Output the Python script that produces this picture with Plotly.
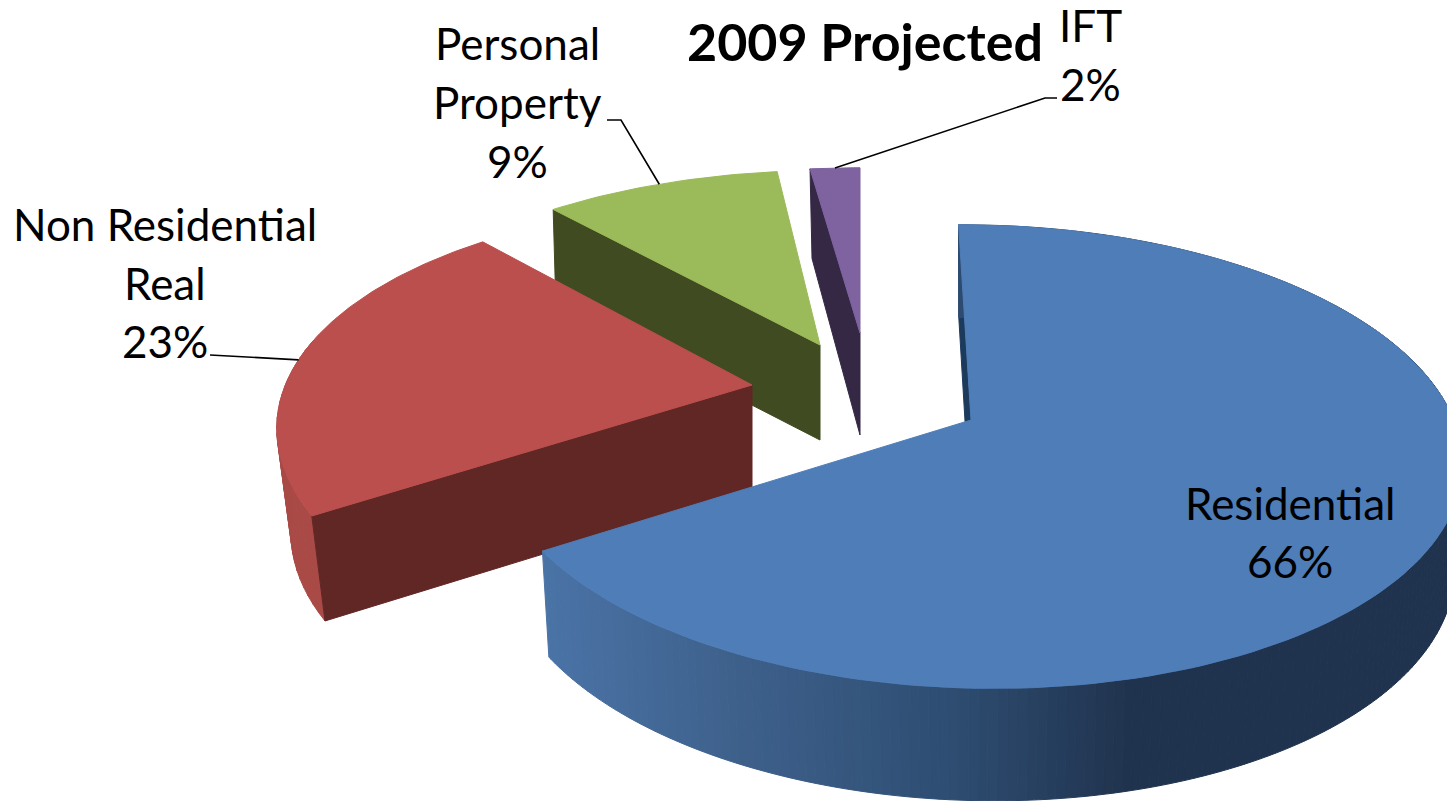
import math
import plotly.graph_objects as go

# ---- data ----
categories = ["Residential", "Non Residential Real", "Personal Property", "IFT"]
values = [66, 23, 9, 2]
label_lines = [["Residential"], ["Non Residential", "Real"], ["Personal", "Property"], ["IFT"]]
title_text = "2009 Projected"

# ---- styling of the projected pie (per slice) ----
W, H = 1447, 801
FONT = "Lato, Carlito, Calibri, sans-serif"
geom = [
    dict(cx=971, cy=420, R=478, Rk=226, p=0.158, q=-0.01, sk=-0.03, D=101, dk=0.6, bs=0.985),
    dict(cx=752, cy=385, R=490, Rk=224.6, p=0.23, q=-0.05, sk=-0.035, D=105, dk=0.0, bs=0.97),
    dict(cx=820, cy=345, R=442, Rk=180, p=0.03, q=0.0, sk=0.0257, D=95, dk=0.0, bs=0.99),
    dict(cx=860, cy=333, R=470, Rk=195, p=0.18, q=0.0, sk=0.0, D=102, dk=0.8, bs=0.96),
]
top_col = ["#4E7DB8", "#BB4F4D", "#9BBA59", "#7F62A0"]
face_col = ["#1C3A5C", "#612725", "#414B21", "#352845"]
rim_col = [None, "#A94A47", "#414B21", "#352845"]
rim_stops = [(543, (74, 115, 166)), (730, (62, 97, 140)), (950, (46, 77, 114)), (1130, (32, 51, 78)), (1500, (32, 51, 78))]
label_pos = [(1290, [503, 561]), (165, [224, 283, 341]), (517, [43, 102, 161]), (1090, [25, 84])]
leader_elbow = [None, [(210, 355)], [(607, 120), (621, 120)], [(1057, 98), (1045, 98)]]
leader_frac = [None, 0.475, 0.5, 0.5]


def rim_colour(x):
    for (x0, c0), (x1, c1) in zip(rim_stops, rim_stops[1:]):
        if x <= x1:
            t = max(0, (x - x0) / (x1 - x0))
            return "rgb(%d,%d,%d)" % tuple(round(a + (b - a) * t) for a, b in zip(c0, c1))
    return "rgb(32,51,78)"


def top(g, deg):
    a = math.radians(deg)
    u, v = math.sin(a), math.cos(a)
    s = 1 / (1 + g["p"] * v + g["q"] * u)
    return g["cx"] + g["R"] * (u + g["sk"] * v) * s, g["cy"] - g["Rk"] * v * s, s


def bot(g, deg):
    x, y, s = top(g, deg)
    return g["cx"] + (x - g["cx"]) * g["bs"], y + g["D"] * (1 + g["dk"] * (s - 1))


def apex_bot(g):
    return g["cx"], g["cy"] + g["D"]


def poly(fig, pts, colour):
    fig.add_trace(go.Scatter(
        x=[p[0] for p in pts] + [pts[0][0]], y=[p[1] for p in pts] + [pts[0][1]],
        mode="lines", fill="toself", fillcolor=colour, line=dict(color=colour, width=1),
        hoverinfo="skip", showlegend=False))


total = sum(values)
starts, acc = [], 0.0
for val in values:
    starts.append(acc)
    acc += val / total * 360
spans = [(s, s + val / total * 360) for s, val in zip(starts, values)]

fig = go.Figure()


def arc(g, a, b, n=90):
    return [top(g, a + (b - a) * i / n)[:2] for i in range(n + 1)]


def rim_band(g, a, b, step, colour_fn):
    d = a
    while d < b - 1e-6:
        e = min(d + step, b)
        x_mid = top(g, (d + e) / 2)[0]
        poly(fig, [top(g, d)[:2], top(g, e)[:2], bot(g, e), bot(g, d)], colour_fn(x_mid))
        d = e


# purple, green: only the cut face at the slice start shows
for i in (3, 2):
    g = geom[i]
    a, b = spans[i]
    poly(fig, [top(g, a)[:2], (g["cx"], g["cy"]), apex_bot(g), bot(g, a)], face_col[i])
    poly(fig, [(g["cx"], g["cy"])] + arc(g, a, b, 30), top_col[i])

# red: outer rim, cut face, top
g = geom[1]
a, b = spans[1]
rim_band(g, a, a + 45, 2.0, lambda x: rim_col[1])
poly(fig, [top(g, a)[:2], (g["cx"], g["cy"]), apex_bot(g), bot(g, a)], face_col[1])
poly(fig, [(g["cx"], g["cy"])] + arc(g, a, b), top_col[1])

# blue: back cut face, gradient rim, top
g = geom[0]
a, b = spans[0]
poly(fig, [top(g, a)[:2], (g["cx"], g["cy"]), apex_bot(g), bot(g, a)], face_col[0])
rim_band(g, a, b, 1.0, rim_colour)
poly(fig, [(g["cx"], g["cy"])] + arc(g, a, b, 160), top_col[0])

# leader lines
for i in (1, 2, 3):
    a, b = spans[i]
    end = top(geom[i], a + (b - a) * leader_frac[i])[:2]
    pts = leader_elbow[i] + [end]
    fig.add_trace(go.Scatter(x=[p[0] for p in pts], y=[p[1] for p in pts], mode="lines",
                             line=dict(color="#000000", width=1.6), hoverinfo="skip", showlegend=False))

annotations = [dict(x=865, y=41, xref="x", yref="y", text="<b>%s</b>" % title_text, showarrow=False,
                    xanchor="center", yanchor="middle", font=dict(family=FONT, size=52, color="#000000"))]
for i, lines in enumerate(label_lines):
    cx, ys = label_pos[i]
    for text, y in zip(lines + ["%d%%" % values[i]], ys):
        annotations.append(dict(x=cx, y=y, xref="x", yref="y", text=text, showarrow=False,
                                xanchor="center", yanchor="middle",
                                font=dict(family=FONT, size=44, color="#000000")))

fig.update_layout(
    width=W, height=H, margin=dict(l=0, r=0, t=0, b=0), paper_bgcolor="#FFFFFF", plot_bgcolor="#FFFFFF",
    showlegend=False, annotations=annotations,
    xaxis=dict(range=[0, W], visible=False, fixedrange=True),
    yaxis=dict(range=[H, 0], visible=False, fixedrange=True),
)
fig.write_html("out.html", post_script="document.body.style.margin='0';document.body.style.overflow='hidden';",
               config=dict(displayModeBar=False))
